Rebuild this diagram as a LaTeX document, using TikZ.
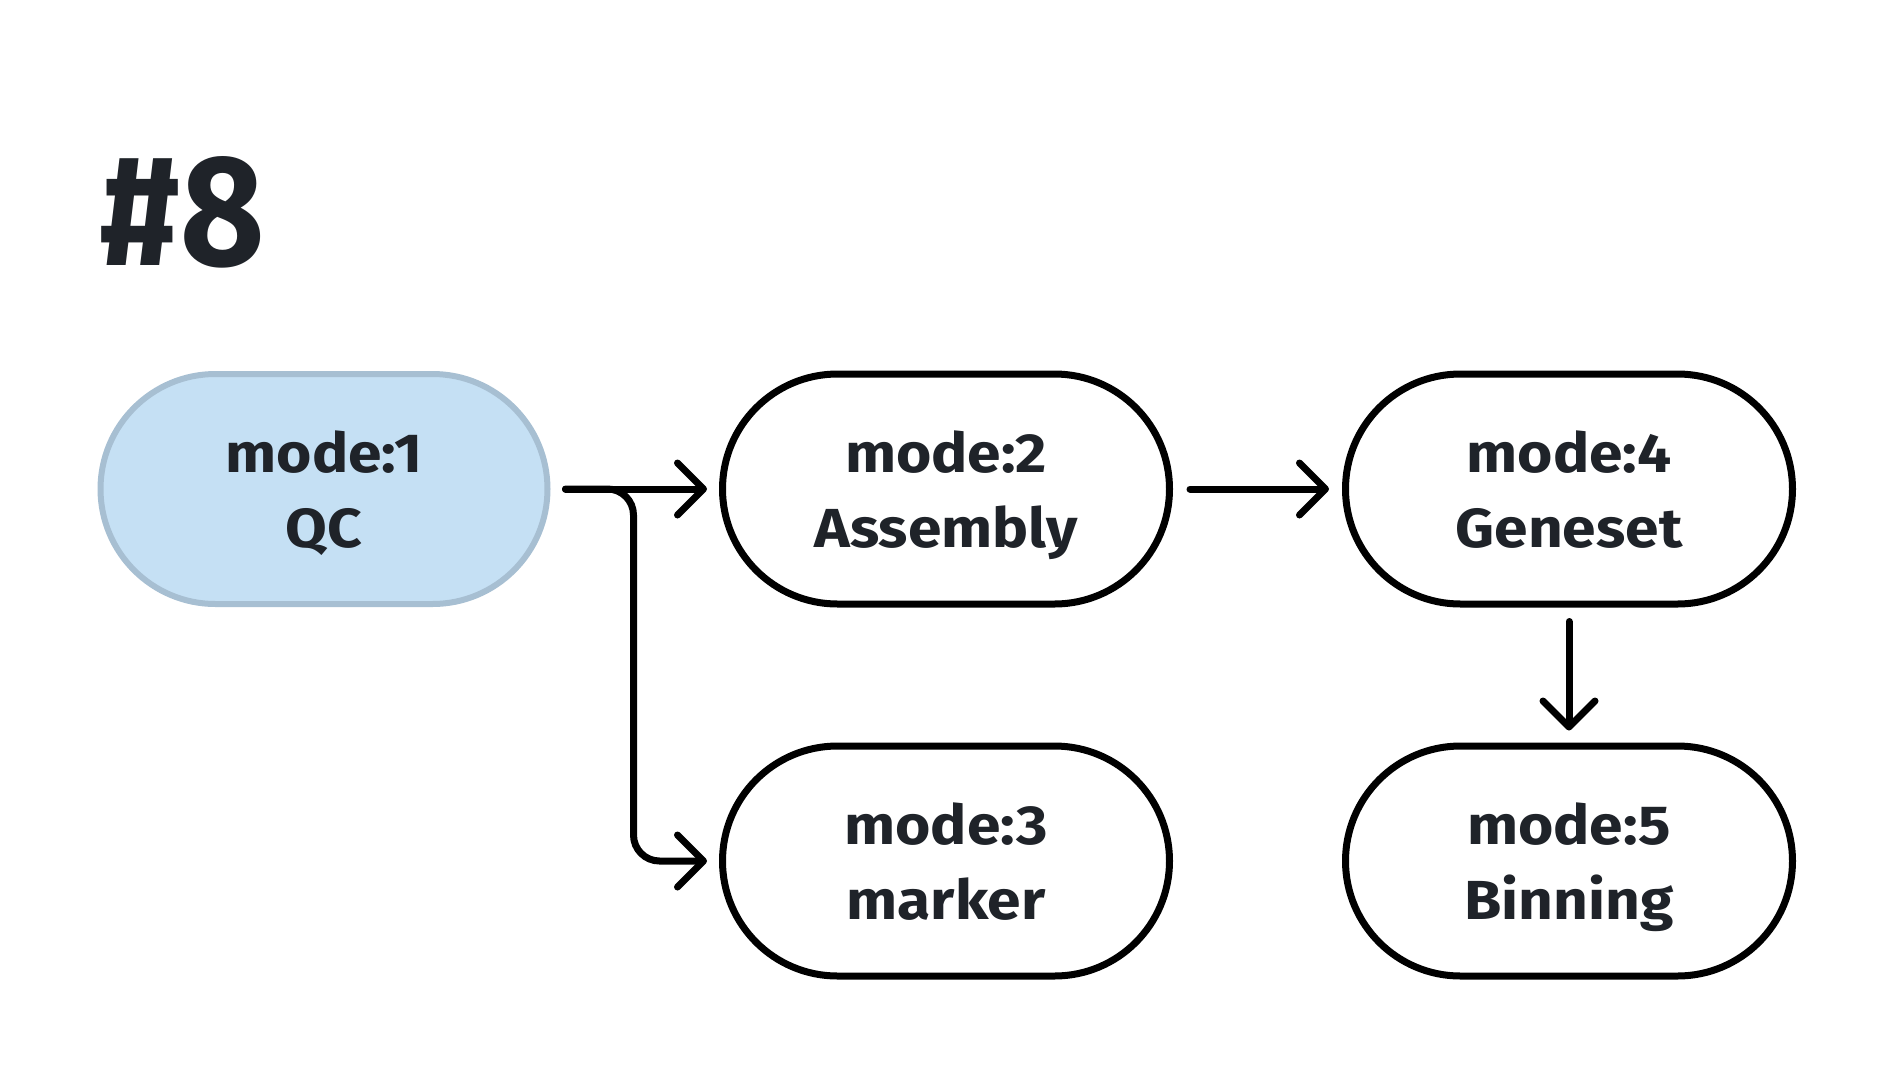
\documentclass[tikz,border=0pt]{standalone}
\usepackage{fontspec}
\setmainfont{Fira Sans}
\newfontfamily\nodefont{Fira Sans}[FakeStretch=1.1]
\newfontfamily\titlefont{Fira Sans}[FakeStretch=0.92]
\usetikzlibrary{arrows.meta,calc}
\definecolor{ink}{HTML}{1F2329}
\definecolor{qcfill}{HTML}{C5E0F4}
\definecolor{qcline}{HTML}{A7BFD2}
\newcommand{\topstrut}{\rule{0pt}{58pt}}
\newcommand{\botstrut}{\rule[-17pt]{0pt}{17pt}}
\tikzset{
  stage/.style={draw=black, line width=7pt, fill=white, rounded corners=115pt,
    minimum width=447pt, minimum height=230pt, inner sep=0pt, align=center,
    text=ink, font=\nodefont\fontsize{55}{75}\selectfont\bfseries},
  qcstage/.style={stage, draw=qcline, line width=6pt, fill=qcfill},
  conn/.style={draw=black, line width=7pt, line cap=round, line join=round,
    -{Straight Barb[length=26pt,width=52pt,round]}},
}
\begin{document}
\begin{tikzpicture}[x=1pt,y=-1pt]
\useasboundingbox (0,0) rectangle (1896,1080);
\node[anchor=base west, inner sep=0pt, text=ink, font=\titlefont\fontsize{158}{158}\selectfont\bfseries] (title) at (99,265) {\#8};
\node[qcstage] (n1) at (324,489) {\topstrut mode:1\\QC\botstrut};
\node[stage] (n2) at (946,489) {\topstrut mode:2\\Assembly\botstrut};
\node[stage] (n3) at (946,861) {\topstrut mode:3\\marker\botstrut};
\node[stage] (n4) at (1569,489) {\topstrut mode:4\\Geneset\botstrut};
\node[stage] (n5) at (1569,861) {\topstrut mode:5\\Binning\botstrut};
\draw[conn] ([xshift=15pt]n1.east) -- ([xshift=-12pt]n2.west);
\draw[conn, rounded corners=26pt] ([xshift=15pt]n1.east) -- ++(68,0) |- ([xshift=-12pt]n3.west);
\draw[conn] ([xshift=17pt]n2.east) -- ([xshift=-13pt]n4.west);
\draw[conn] ([yshift=-14pt]n4.south) -- ([yshift=12pt]n5.north);
\end{tikzpicture}
\end{document}
